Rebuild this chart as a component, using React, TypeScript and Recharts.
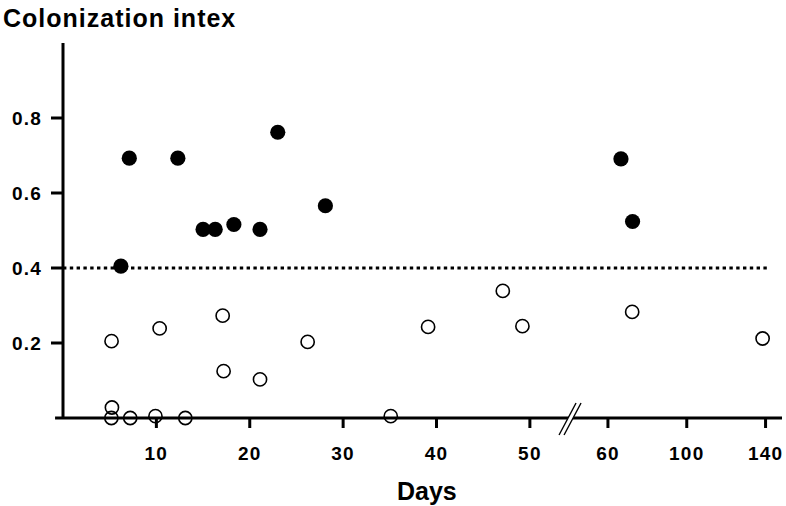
import React from 'react';
import {
  ScatterChart,
  Scatter,
  XAxis,
  YAxis,
  ReferenceLine,
  ReferenceDot,
} from 'recharts';

// colonization index per sample, day of sampling
const colonizedDays = [6.2, 7.1, 12.3, 15.0, 16.3, 18.3, 21.1, 23.0, 28.1, 66.6, 72.5];
const colonizedIndex = [0.405, 0.693, 0.693, 0.503, 0.503, 0.516, 0.503, 0.762, 0.566, 0.691, 0.524];

const lowDays = [5.2, 10.35, 17.1, 17.2, 21.1, 26.2, 5.24, 5.18, 7.2, 9.9, 13.1, 35.1, 39.1, 47.1, 49.2, 72.3, 138.5];
const lowIndex = [0.205, 0.239, 0.273, 0.125, 0.103, 0.203, 0.028, 0, 0, 0.005, 0, 0.005, 0.243, 0.339, 0.245, 0.283, 0.212];

const tickDays = [10, 20, 30, 40, 50, 60, 100, 140];
const yTicks = [0.2, 0.4, 0.6, 0.8];
const threshold = 0.4;

// broken axis: linear up to 50, compressed scale from 60 on
const toPos = (d: number) => (d <= 50 ? d : 58.36 + (d - 60) * 0.211);
const BREAK_POS = 54.3;
const X_MAX = 77;

const colonized = colonizedDays.map((d, i) => ({ x: toPos(d), y: colonizedIndex[i] }));
const low = lowDays.map((d, i) => ({ x: toPos(d), y: lowIndex[i] }));

const FONT = '"Liberation Sans", Arial, Helvetica, sans-serif';
const tickStyle = { fill: '#000', fontSize: 19, fontWeight: 'bold', fontFamily: FONT, letterSpacing: 1.2 };

const FilledDot = (props: any) => <circle cx={props.cx} cy={props.cy} r={7.6} fill="#000" />;
const OpenDot = (props: any) => (
  <circle cx={props.cx} cy={props.cy} r={6.6} fill="none" stroke="#000" strokeWidth={1.6} />
);

const AxisBreak = (props: any) => {
  const { cx, cy } = props;
  return (
    <g>
      <polygon
        points={`${cx - 11},${cy + 17} ${cx - 6},${cy + 17} ${cx + 11},${cy - 15} ${cx + 6},${cy - 15}`}
        fill="#fff"
      />
      <line x1={cx - 11} y1={cy + 17} x2={cx + 6} y2={cy - 15} stroke="#000" strokeWidth={1.4} />
      <line x1={cx - 6} y1={cy + 17} x2={cx + 11} y2={cy - 15} stroke="#000" strokeWidth={1.4} />
    </g>
  );
};

export default function App() {
  return (
    <div style={{ position: 'absolute', left: 0, top: 0, width: 786, height: 506, background: '#fff', fontFamily: FONT }}>
      <div
        style={{
          position: 'absolute',
          left: 3,
          top: 6,
          fontSize: 25,
          lineHeight: 1,
          fontWeight: 'bold',
          letterSpacing: 1,
          color: '#000',
          whiteSpace: 'nowrap',
        }}
      >
        Colonization intex
      </div>
      <ScatterChart
        width={786}
        height={506}
        margin={{ top: 43, right: 4, bottom: 0, left: 13 }}
      >
        <XAxis
          type="number"
          dataKey="x"
          domain={[0, X_MAX]}
          ticks={tickDays.map(toPos)}
          tickFormatter={(v: number, i: number) => String(tickDays[i])}
          interval={0}
          axisLine={false}
          tickLine={{ stroke: '#000', strokeWidth: 3 }}
          tickSize={10}
          tickMargin={19}
          height={88}
          tick={tickStyle}
        />
        <YAxis
          type="number"
          dataKey="y"
          domain={[0, 1]}
          ticks={yTicks}
          tickFormatter={(v: number) => v.toFixed(1)}
          interval={0}
          axisLine={false}
          tickLine={{ stroke: '#000', strokeWidth: 3 }}
          tickSize={12}
          tickMargin={9}
          width={50}
          tick={tickStyle}
        />
        <ReferenceLine
          segment={[{ x: -0.85, y: 0 }, { x: X_MAX, y: 0 }]}
          stroke="#000"
          strokeWidth={3}
          ifOverflow="visible"
        />
        <ReferenceLine
          segment={[{ x: 0, y: 0 }, { x: 0, y: 1 }]}
          stroke="#000"
          strokeWidth={3}
          ifOverflow="visible"
        />
        <ReferenceLine
          segment={[{ x: 0, y: threshold }, { x: 75.7, y: threshold }]}
          stroke="#000"
          strokeWidth={3}
          strokeDasharray="3.4 3.4"
        />
        <ReferenceDot x={BREAK_POS} y={0} shape={AxisBreak} ifOverflow="visible" />
        <Scatter data={low} shape={OpenDot} isAnimationActive={false} />
        <Scatter data={colonized} shape={FilledDot} isAnimationActive={false} />
      </ScatterChart>
      <div
        style={{
          position: 'absolute',
          left: 397,
          top: 479,
          fontSize: 25,
          lineHeight: 1,
          fontWeight: 'bold',
          color: '#000',
        }}
      >
        Days
      </div>
    </div>
  );
}
